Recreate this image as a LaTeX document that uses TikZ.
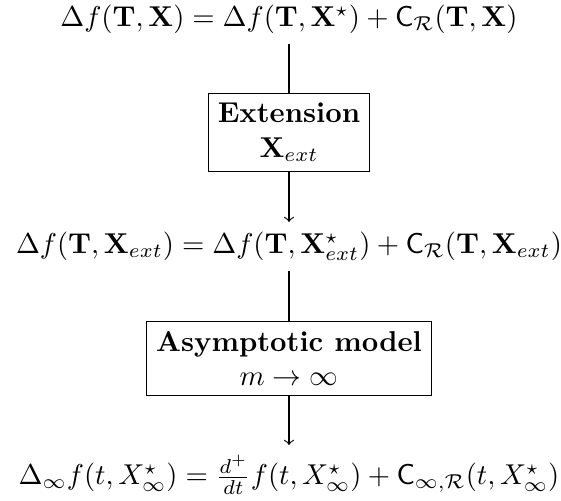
\documentclass[tikz,border=0pt]{standalone}
\usepackage{amsmath,amssymb}
\begin{document}
\begin{tikzpicture}[x=0.3484pt,y=-0.3484pt,
  formula/.style={inner sep=0.3333em},
  stagebox/.style={draw,align=center,inner sep=0.3333em},
  link/.style={draw},
  linkarrow/.style={draw,->}]
\useasboundingbox (0,0) rectangle (561,500);
\node[formula,anchor=south] (f1) at (289,44)
  {$\Delta f(\mathbf{T},\mathbf{X}) = \Delta f(\mathbf{T},\mathbf{X}^{\star}) + \mathsf{C}_{\mathcal{R}}(\mathbf{T},\mathbf{X})$};
\node[stagebox,anchor=north] (b1) at (289,93)
  {\textbf{Extension}\\ $\mathbf{X}_{ext}$};
\node[formula,anchor=north] (f2) at (289,222)
  {$\Delta f(\mathbf{T},\mathbf{X}_{ext}) = \Delta f(\mathbf{T},\mathbf{X}^{\star}_{ext}) + \mathsf{C}_{\mathcal{R}}(\mathbf{T},\mathbf{X}_{ext})$};
\node[stagebox,anchor=north] (b2) at (289,321)
  {\textbf{Asymptotic model}\\ $m\to\infty$};
\node[formula,anchor=north] (f3) at (289,445)
  {$\Delta_{\infty} f(t,X^{\star}_{\infty}) = \frac{d^{+}}{dt} f(t,X^{\star}_{\infty}) + \mathsf{C}_{\infty,\mathcal{R}}(t,X^{\star}_{\infty})$};
\draw[link] (f1) -- (b1);
\draw[linkarrow] (b1) -- (f2);
\draw[link] (f2) -- (b2);
\draw[linkarrow] (b2) -- (f3);
\end{tikzpicture}
\end{document}
